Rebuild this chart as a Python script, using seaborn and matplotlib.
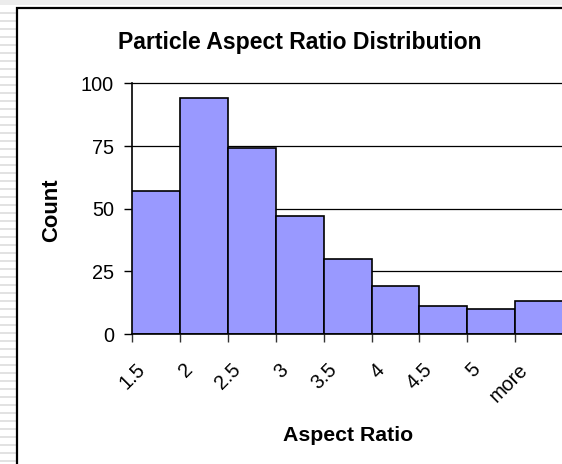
import matplotlib
matplotlib.use("Agg")
import matplotlib.pyplot as plt
import matplotlib.transforms as mtransforms
from matplotlib.patches import Rectangle
from matplotlib.lines import Line2D
import seaborn as sns
import pandas as pd

# Histogram bins (upper edge labels) and counts
bin_labels = ["1.5", "2", "2.5", "3", "3.5", "4", "4.5", "5", "more"]
counts = [57, 94, 74, 47, 30, 19, 11, 10, 13]
bar_ids = [f"b{i}" for i in range(len(counts))]
y_ticks = [0, 25, 50, 75, 100]

df = pd.DataFrame({"bin": bar_ids, "count": counts})

sns.set_theme(style="white")
plt.rcParams["font.family"] = ["Liberation Sans", "DejaVu Sans"]
plt.rcParams["text.color"] = "black"
plt.rcParams["xtick.color"] = "black"
plt.rcParams["ytick.color"] = "black"

W, H = 562, 464
fig = plt.figure(figsize=(W / 100 + 0.001, H / 100 + 0.001), dpi=100)
fig.patch.set_facecolor("white")

# worksheet backdrop: light top strip and striped left margin
fig.add_artist(Rectangle((0, H - 5), W, 5, transform=None, facecolor="#ececec",
                         edgecolor="none", linewidth=0, zorder=-3))
for yy in range(H - 14, -8, -8):
    fig.add_artist(Rectangle((0, yy), 16, 2, transform=None, facecolor="#e2e2e2",
                             edgecolor="none", linewidth=0, zorder=-3))
# chart frame (left and top edges; the rest runs off the canvas)
fig.add_artist(Rectangle((17, 0), W - 17, H - 8, transform=None, facecolor="white",
                         edgecolor="none", linewidth=0, zorder=-2))
fig.add_artist(Line2D([17, 17, W + 20], [-20, H - 8, H - 8], transform=None, color="black",
                      linewidth=1.6, solid_joinstyle="miter", zorder=-1))

left_px, right_px = 132, 563
bottom_px, top_px = 334, 83.3
ax = fig.add_axes([left_px / W, (H - bottom_px) / H,
                   (right_px - left_px) / W, (bottom_px - top_px) / H])
ax.set_zorder(1)
ax.set_facecolor("none")

sns.barplot(data=df, x="bin", y="count", ax=ax, width=1.0, color="#9999ff",
            saturation=1, edgecolor="black", linewidth=1.2, zorder=3)

ax.set_xlim(-0.5, len(counts) - 0.5)
ax.set_ylim(0, 100)
ax.set_yticks(y_ticks)
ax.set_yticklabels([str(v) for v in y_ticks], fontsize=14.3)
for v in y_ticks[1:]:
    ax.axhline(v, color="black", linewidth=0.9, zorder=1, clip_on=False)

# category boundaries carry the bin labels, set slanted below the axis
edges = [i - 0.5 for i in range(len(bin_labels))]
ax.set_xticks(edges)
ax.set_xticklabels([])
label_tr = mtransforms.blended_transform_factory(ax.transData, ax.transAxes) + \
    mtransforms.ScaledTranslation(0.165, -0.26, fig.dpi_scale_trans)
for pos, lab in zip(edges, bin_labels):
    ax.text(pos, 0, lab, transform=label_tr, rotation=45, ha="right", va="top",
            fontsize=14.3, clip_on=False)

ax.tick_params(axis="y", direction="out", length=6, width=1, color="black", pad=7, left=True)
ax.tick_params(axis="x", direction="out", length=6, width=1, color="#333333", bottom=True)

for s in ["top", "right"]:
    ax.spines[s].set_visible(False)
for s in ["left", "bottom"]:
    ax.spines[s].set_visible(True)
    ax.spines[s].set_color("black")
    ax.spines[s].set_linewidth(1.2)
ax.spines["bottom"].set_zorder(4)

ax.set_xlabel("")
ax.set_ylabel("")

fig.text(300 / W, 1 - 42 / H, "Particle Aspect Ratio Distribution", ha="center", va="center",
         fontsize=16.6, fontweight="bold")
fig.text(52 / W, 1 - 210 / H, "Count", ha="center", va="center", rotation=90,
         fontsize=15.8, fontweight="bold")
fig.text(348 / W, 1 - 435 / H, "Aspect Ratio", ha="center", va="center",
         fontsize=15.3, fontweight="bold")

fig.savefig("out.png", dpi=100)
